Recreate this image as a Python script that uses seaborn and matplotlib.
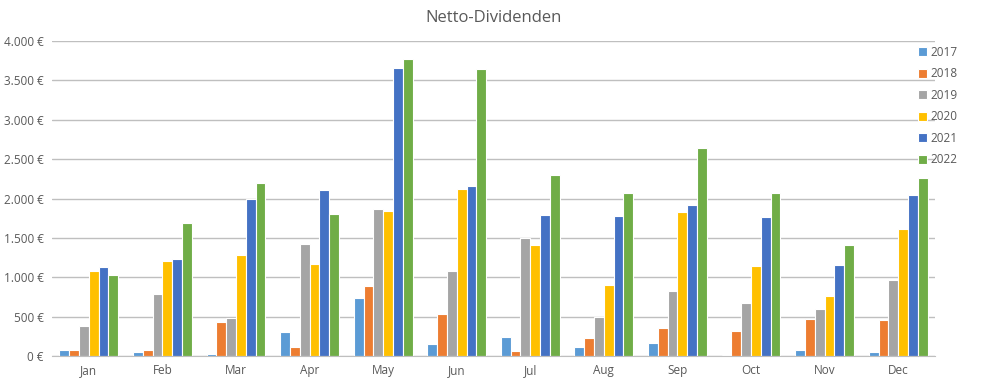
# Netto-Dividenden per month, grouped bars by year

import matplotlib
matplotlib.use("Agg")
import matplotlib.pyplot as plt
import matplotlib.ticker as mticker
import seaborn as sns
import pandas as pd

months = ["Jan", "Feb", "Mar", "Apr", "May", "Jun",
          "Jul", "Aug", "Sep", "Oct", "Nov", "Dec"]
years = ["2017", "2018", "2019", "2020", "2021", "2022"]

div_2017 = [80, 47, 25, 309, 737, 157, 237, 119, 165, 17, 80, 47]
div_2018 = [80, 80, 436, 119, 890, 530, 59, 233, 356, 314, 470, 453]
div_2019 = [381, 792, 487, 1428, 1873, 1080, 1504, 500, 830, 678, 597, 966]
div_2020 = [1080, 1208, 1280, 1169, 1847, 2127, 1407, 907, 1826, 1148, 767, 1610]
div_2021 = [1127, 1229, 2000, 2110, 3661, 2157, 1788, 1780, 1924, 1767, 1161, 2042]
div_2022 = [1025, 1686, 2195, 1809, 3767, 3644, 2305, 2072, 2648, 2076, 1415, 2267]

colors = ["#5B9BD5", "#ED7D31", "#A5A5A5", "#FFC000", "#4472C4", "#70AD47"]

rows = []
for year, vals in zip(years, [div_2017, div_2018, div_2019, div_2020, div_2021, div_2022]):
    for m, v in zip(months, vals):
        rows.append({"month": m, "year": year, "value": v})
df = pd.DataFrame(rows)

sns.set_style("white")
plt.rcParams["font.family"] = ["Open Sans", "DejaVu Sans"]
text_col = "#595959"

fig = plt.figure(figsize=(10, 3.84), dpi=100)
ax = fig.add_axes([0.052, 0.073, 0.883, 0.82])

sns.barplot(data=df, x="month", y="value", hue="year", order=months,
            hue_order=years, palette=colors, saturation=1, width=0.8,
            edgecolor="white", linewidth=0.8, ax=ax)

ax.set_ylim(0, 4000)
ax.set_xlim(-0.5, 11.5)
ax.yaxis.set_major_locator(mticker.MultipleLocator(500))
ax.yaxis.set_major_formatter(
    mticker.FuncFormatter(lambda v, p: f"{int(v):,} €".replace(",", ".")))
ax.grid(axis="y", color="#BFBFBF", linewidth=1)
ax.set_axisbelow(True)
for s in ["top", "right", "left"]:
    ax.spines[s].set_visible(False)
ax.spines["bottom"].set_color("#BFBFBF")
ax.tick_params(axis="both", length=0, labelsize=8.5, colors=text_col, pad=6)
ax.set_xlabel("")
ax.set_ylabel("")

ax.set_title("Netto-Dividenden", fontsize=12, color=text_col, pad=14)

ax.legend(loc="upper left", bbox_to_anchor=(0.975, 1.0), frameon=False,
          fontsize=8.5, labelcolor=text_col, handlelength=0.75, handleheight=0.75,
          handletextpad=0.35, labelspacing=0.72, borderaxespad=0)

fig.savefig("out.png", dpi=100)
